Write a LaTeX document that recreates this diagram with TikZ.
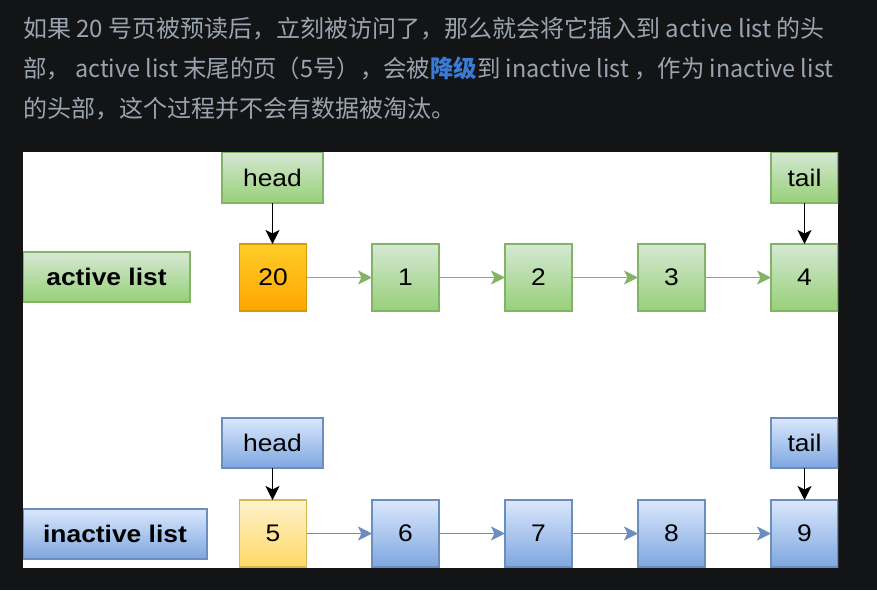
\documentclass[tikz,border=0pt]{standalone}
\usepackage{fontspec}
\setmainfont{Liberation Sans}
\newfontfamily\diag[FakeStretch=1.1]{Liberation Sans}
\newfontfamily\cjk{Noto Sans CJK SC}
\usetikzlibrary{arrows.meta}
\definecolor{bgdark}{HTML}{131416}
\definecolor{txtgray}{HTML}{9AA4B0}
\definecolor{hlblue}{HTML}{3A7BD5}
\definecolor{gTop}{HTML}{D5E8D4}
\definecolor{gBot}{HTML}{97D077}
\definecolor{gLine}{HTML}{82B366}
\definecolor{bTop}{HTML}{DAE8FC}
\definecolor{bBot}{HTML}{7EA6E0}
\definecolor{bLine}{HTML}{6C8EBF}
\definecolor{oTop}{HTML}{FFCD28}
\definecolor{oBot}{HTML}{FFA500}
\definecolor{oLine}{HTML}{D79B00}
\definecolor{yTop}{HTML}{FFF2CC}
\definecolor{yBot}{HTML}{FFD966}
\definecolor{yLine}{HTML}{D6B656}
\tikzset{
  box/.style={inner sep=0pt, outer sep=0pt, line width=1.3pt, font=\diag\fontsize{24}{26}\selectfont, text=black},
  gbox/.style={box, draw=gLine, top color=gTop, bottom color=gBot},
  bbox/.style={box, draw=bLine, top color=bTop, bottom color=bBot},
  obox/.style={box, draw=oLine, top color=oTop, bottom color=oBot},
  ybox/.style={box, draw=yLine, top color=yTop, bottom color=yBot},
  pg/.style={minimum width=67pt, minimum height=67pt},
  lbl/.style={font=\diag\bfseries\fontsize{24}{26}\selectfont},
  garrow/.style={draw=gLine, line width=1.8pt, -{Stealth[length=14pt,width=14pt,inset=3.5pt,fill=gLine]}},
  barrow/.style={draw=bLine, line width=1.8pt, -{Stealth[length=14pt,width=14pt,inset=3.5pt,fill=bLine]}},
  karrow/.style={draw=black, line width=1.8pt, -{Stealth[length=14pt,width=14pt,inset=3.5pt]}},
  cjkline/.style={anchor=base west, inner sep=0pt, text=txtgray, font=\cjk\fontsize{24}{26}\selectfont}
}
\begin{document}
\begin{tikzpicture}[x=1pt,y=-1pt]
\fill[bgdark] (0,0) rectangle (877,590);
\useasboundingbox (0,0) rectangle (877,590);
\node[cjkline] (t1) at (23,37) {如果 20 号页被预读后，立刻被访问了，那么就会将它插入到 active list 的头};
\node[cjkline] (t2) at (23,77) {\scalebox{0.975}[1]{部，\ active list 末尾的页（5号），会被{\color{hlblue}\bfseries 降级}到 inactive list ，作为 inactive list}};
\node[cjkline] (t3) at (23,117) {的头部，这个过程并不会有数据被淘汰。};
\fill[white] (23,152) rectangle (838,568);
\begin{scope}
\clip (23,152) rectangle (838,568);
% active row
\node[gbox, minimum width=101pt, minimum height=51pt] (ah) at (272.5,177.5) {head};
\node[gbox, minimum width=67pt, minimum height=51pt] (at) at (804.5,177.5) {tail};
\node[gbox, lbl, minimum width=167pt, minimum height=50pt] (al) at (106.5,277) {active list};
\node[obox, pg] (n20) at (273,277.5) {20};
\node[gbox, pg] (n1) at (405.5,277.5) {1};
\node[gbox, pg] (n2) at (538.5,277.5) {2};
\node[gbox, pg] (n3) at (671.5,277.5) {3};
\node[gbox, pg] (n4) at (804.5,277.5) {4};
\draw[garrow] (n20) -- (n1);
\draw[garrow] (n1) -- (n2);
\draw[garrow] (n2) -- (n3);
\draw[garrow] (n3) -- (n4);
\draw[karrow] (ah) -- (ah.south |- n20.north);
\draw[karrow] (at) -- (n4);
% inactive row
\node[bbox, minimum width=101pt, minimum height=50pt] (ih) at (272.5,443) {head};
\node[bbox, minimum width=67pt, minimum height=50pt] (it) at (804.5,443) {tail};
\node[bbox, lbl, minimum width=184pt, minimum height=50pt] (il) at (115,534) {inactive list};
\node[ybox, pg] (n5) at (273,533.5) {5};
\node[bbox, pg] (n6) at (405.5,533.5) {6};
\node[bbox, pg] (n7) at (538.5,533.5) {7};
\node[bbox, pg] (n8) at (671.5,533.5) {8};
\node[bbox, pg] (n9) at (804.5,533.5) {9};
\draw[barrow] (n5) -- (n6);
\draw[barrow] (n6) -- (n7);
\draw[barrow] (n7) -- (n8);
\draw[barrow] (n8) -- (n9);
\draw[karrow] (ih) -- (ih.south |- n5.north);
\draw[karrow] (it) -- (n9);
\end{scope}
\end{tikzpicture}
\end{document}
